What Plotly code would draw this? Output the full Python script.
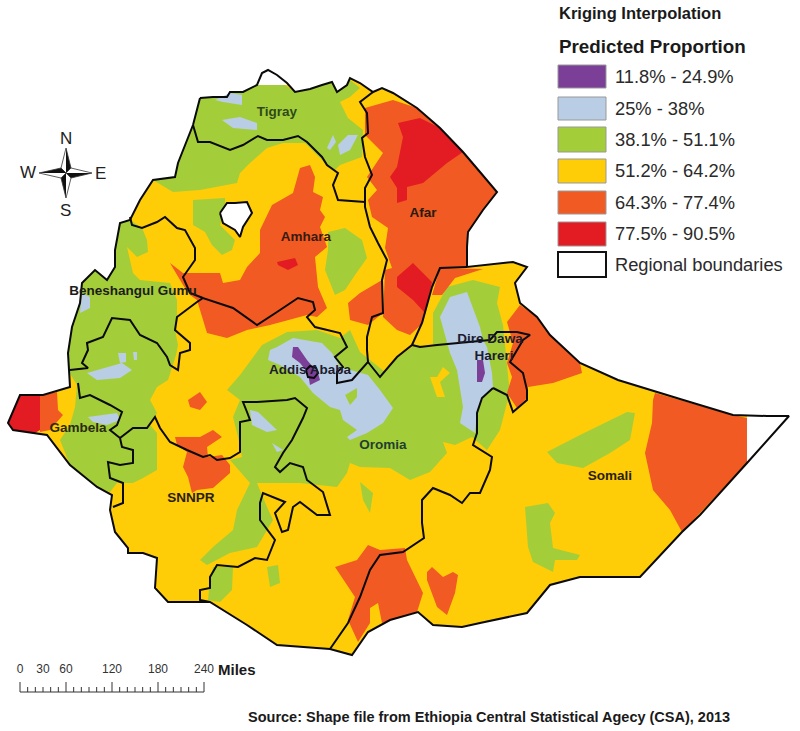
import plotly.graph_objects as go

# ---- Map geometry (map units = image pixels) ----
COUNTRY_OUTLINE = [(200,98),(213,97),(227,97),(230,92),(243,92),(257,85),(262,73),(268,70),(277,75),(287,83),(295,92),(310,89),(322,85),(332,82),(337,92),(347,85),(350,78),(360,83),(373,92),(382,88),(393,93),(417,108),(440,128),(463,152),(480,172),(497,192),(483,210),(468,232),(467,247),(467,267),(513,262),(527,267),(515,283),(520,303),(537,317),(550,335),(580,363),(618,380),(680,399),(733,415),(767,416),(789,416),(747,463),(700,515),(682,532),(640,577),(607,577),(580,577),(550,585),(527,613),(480,623),(462,627),(433,625),(418,612),(390,620),(368,632),(352,655),(330,649),(277,645),(247,625),(210,602),(168,602),(155,588),(157,558),(143,553),(128,553),(128,548),(115,532),(110,510),(112,495),(97,487),(70,465),(47,435),(35,433),(13,430),(8,423),(20,395),(43,395),(70,387),(69,370),(68,353),(72,327),(80,303),(82,283),(95,270),(107,280),(115,267),(115,250),(120,223),(130,220),(140,200),(153,180),(175,177),(178,163),(193,125),(200,98)]
LAKE_HOLE = [(220,213),(227,203),(235,203),(247,202),(252,213),(243,227),(240,237),(235,230),(223,223),(220,213)]
WHITE_TRIANGLE = [(747,412),(795,412),(747,470)]
WHITE_TOP = [(258,66),(300,66),(292,85),(257,85)]

BOUND_TIGRAY = [(193,125),(198,142),(210,142),(230,150),(243,145),(258,136),(267,140),(283,140),(298,136),(307,142),(322,157),(327,165),(338,173),(333,185),(338,200),(365,202)]
BOUND_AFAR_W = [(373,92),(360,102),(367,113),(368,133),(362,138),(365,157),(372,175),(365,188),(365,207),(370,227),(378,243),(387,260),(382,280),(383,313),(372,317),(367,337),(367,350),(368,362),(352,380),(337,383),(337,372),(343,367),(335,357),(347,347),(340,333),(315,327),(307,317),(315,310),(313,302),(298,298),(277,312),(257,325),(233,308),(203,298),(197,302),(177,317),(175,330),(190,343),(190,350),(180,353),(178,370),(170,365),(167,357),(157,343),(140,335),(130,320),(112,318),(103,337),(87,343),(88,350),(82,363),(88,368),(70,370)]
BOUND_BENI = [(130,217),(132,225),(142,228),(157,222),(165,217),(177,228),(185,230),(195,248),(195,260),(183,277),(190,293),(203,298)]
BOUND_GAMBELA = [(78,383),(80,398),(90,395),(110,405),(122,412),(117,425),(110,430),(120,438),(122,447),(133,450),(133,463),(120,465),(108,462),(110,478),(123,483),(123,503),(113,507)]
BOUND_SNNPR = [(120,438),(133,428),(147,428),(155,417),(160,428),(170,442),(187,450),(203,457),(210,455),(217,460),(230,458),(240,452),(240,422),(250,420),(247,412),(243,402),(257,402),(287,400),(295,398),(307,408),(303,418),(292,440),(283,453),(275,467),(280,472),(290,463),(303,467),(307,480),(323,492),(330,515),(317,515),(300,502),(293,507),(288,530),(282,532),(275,513),(285,502),(263,493),(260,503),(260,520),(275,540),(267,560),(255,558),(238,567),(217,565),(210,577),(210,588),(200,590),(200,600),(210,602)]
BOUND_SOMALI = [(493,388),(482,398),(477,413),(477,433),(473,445),(492,457),(490,470),(480,493),(470,493),(462,503),(450,495),(433,488),(422,500),(422,523),(424,538),(403,552),(380,555),(370,570),(360,597),(348,623),(330,649)]
BOUND_HARARI = [(493,388),(507,395),(513,412),(527,400),(527,390),(523,373),(510,362),(523,340),(530,335),(517,332),(497,332),(490,340),(437,345),(420,347),(412,345)]
BOUND_AFAR_S = [(368,362),(380,377),(397,357),(412,345),(422,323),(432,287),(440,268),(467,267)]
BOUND_ADDIS = [(306,370),(310,366),(316,368),(318,373),(314,378),(308,377),(306,370)]

GREEN_NORTH = [(153,180),(175,177),(178,163),(193,125),(200,98),(213,97),(227,97),(230,92),(243,92),(257,85),(285,85),(295,92),(310,89),(322,85),(332,82),(337,92),(347,85),(350,80),(360,88),(350,97),(340,102),(348,118),(363,130),(362,157),(340,165),(335,170),(322,160),(305,143),(283,143),(267,148),(250,163),(240,173),(237,183),(200,190),(173,192)]
GREEN_AMHARA_W = [(193,200),(225,198),(225,210),(220,225),(235,240),(232,250),(222,255),(212,245),(205,232),(193,225)]
GREEN_AMHARA_E = [(328,232),(345,228),(362,240),(367,258),(355,275),(345,290),(335,295),(325,270),(328,250)]
GREEN_WEST = [(120,223),(130,220),(142,228),(147,240),(148,252),(137,257),(127,247),(133,273),(140,280),(170,283),(177,300),(177,317),(175,330),(178,345),(176,355),(172,368),(168,380),(157,387),(150,400),(157,413),(150,425),(157,433),(157,470),(143,478),(133,483),(117,483),(110,492),(97,487),(70,465),(60,440),(70,425),(75,407),(77,385),(69,372),(68,353),(72,327),(80,303),(82,283),(95,270),(107,280),(115,267),(115,250)]
GREEN_CENTRAL = [(287,332),(317,330),(340,338),(350,330),(360,352),(385,372),(397,358),(415,345),(433,347),(433,313),(447,287),(473,280),(500,287),(497,303),(503,325),(505,345),(507,365),(510,395),(507,403),(500,430),(487,450),(472,437),(455,445),(443,442),(447,453),(430,472),(410,480),(390,468),(360,467),(350,463),(347,473),(337,487),(300,483),(257,483),(267,507),(273,520),(257,547),(230,553),(207,565),(200,560),(213,547),(233,530),(237,510),(250,483),(230,460),(242,457),(238,437),(233,417),(240,400),(227,390),(240,375),(262,345)]
GREEN_OROMIA_S = [(360,482),(373,493),(370,513),(363,500)]
GREEN_SOMALI_E = [(547,452),(580,435),(627,412),(635,413),(630,440),(610,453),(583,468),(557,463)]
GREEN_SOMALI_S = [(525,507),(548,503),(555,513),(550,523),(553,548),(580,555),(577,560),(555,560),(553,572),(533,562),(528,547)]
GREEN_SOUTH_A = [(267,567),(278,565),(280,583),(270,587)]
GREEN_SOUTH_B = [(213,567),(233,567),(232,590),(220,602),(208,600),(210,580)]

YELLOW_PATCH_E = [(430,377),(437,397),(445,397),(440,382),(450,373),(443,367),(437,377)]

BLUE_CENTRAL = [(268,360),(270,350),(277,347),(293,338),(322,343),(332,353),(340,367),(368,375),(380,390),(393,408),(383,423),(367,433),(350,440),(347,437),(357,430),(343,420),(340,410),(330,407),(313,393),(300,377),(280,365)]
BLUE_EAST = [(440,317),(450,297),(467,292),(480,327),(483,340),(487,347),(492,373),(493,387),(483,397),(477,413),(475,433),(460,423),(463,407),(457,370),(450,353)]
BLUE_SNNPR_A = [(250,410),(258,412),(277,430),(267,432),(252,425)]
BLUE_SNNPR_B = [(272,443),(283,450),(277,452)]
BLUE_GAMBELA = [(88,417),(117,413),(120,420),(107,425),(93,422)]
BLUE_W1 = [(87,373),(122,363),(132,370),(120,378),(97,380)]
BLUE_W2 = [(118,353),(126,353),(126,362),(120,363)]
BLUE_W3 = [(133,352),(137,352),(137,360),(134,360)]
BLUE_TIGRAY_A = [(215,100),(230,93),(242,95),(242,105),(223,102)]
BLUE_TIGRAY_B = [(222,120),(240,117),(257,123),(257,130),(233,128)]
BLUE_TIGRAY_C = [(338,145),(348,135),(358,135),(350,150),(340,155)]
BLUE_TIGRAY_D = [(327,148),(333,135),(336,142),(330,150)]
BLUE_BENI = [(82,293),(90,297),(90,308),(80,313)]
GREEN_IN_BLUE = [(345,395),(357,388),(357,397),(350,405)]

ORANGE_AMHARA = [(170,263),(183,273),(220,273),(223,283),(240,280),(247,267),(260,253),(260,230),(272,205),(293,193),(300,168),(310,165),(315,177),(313,192),(323,197),(320,210),(325,217),(320,227),(327,247),(315,257),(318,287),(327,308),(317,317),(307,315),(270,325),(247,330),(227,338),(207,333),(200,310),(197,300),(190,295),(183,285)]
ORANGE_AMHARA_E = [(377,283),(382,280),(383,313),(368,325),(350,320),(348,303),(360,293)]
ORANGE_AFAR = [(393,100),(417,108),(440,128),(463,152),(480,172),(497,192),(483,210),(468,232),(467,247),(467,267),(440,268),(432,287),(423,323),(410,335),(397,330),(383,317),(385,270),(392,268),(385,248),(388,228),(372,217),(368,200),(377,190),(367,177),(383,153),(365,135),(365,108)]
ORANGE_NE = [(440,268),(483,269),(455,278),(442,295),(432,295)]
ORANGE_HARARI = [(520,305),(537,317),(550,335),(580,363),(582,373),(553,383),(528,387),(527,398),(517,408),(507,393),(512,377),(507,363),(513,343),(507,322)]
ORANGE_SOMALI_E = [(655,393),(733,415),(747,418),(747,463),(682,532),(670,510),(653,490),(645,453),(652,423),(653,400)]
ORANGE_SNNPR_A = [(188,400),(200,392),(207,402),(200,410),(190,407)]
ORANGE_SNNPR_B = [(175,437),(200,437),(213,430),(222,437),(207,447),(208,457),(222,455),(230,465),(230,473),(213,488),(197,490),(192,493),(188,477),(183,467),(187,452),(177,445)]
ORANGE_SOUTH_A = [(335,567),(357,560),(368,545),(380,550),(405,548),(407,560),(423,593),(417,612),(382,623),(378,603),(370,608),(370,623),(358,642),(348,620),(355,597)]
ORANGE_SOUTH_B = [(427,572),(432,567),(443,577),(453,572),(458,575),(455,593),(447,615),(437,607),(427,580)]
ORANGE_SW = [(40,396),(57,392),(58,410),(63,415),(50,430),(40,432)]

RED_AFAR_N = [(398,123),(420,118),(440,128),(463,152),(447,163),(423,183),(407,187),(407,200),(397,203),(397,188),(390,177),(397,167),(403,137)]
RED_AFAR_S = [(397,277),(413,263),(423,273),(432,282),(425,313),(413,300),(397,287)]
RED_AMHARA = [(277,262),(295,258),(298,265),(288,270),(278,265)]
RED_SW = [(20,395),(40,395),(40,430),(35,433),(13,430),(8,423)]

PURPLE_ADDIS = [(293,347),(298,347),(307,360),(318,373),(320,380),(310,385),(308,373),(300,363),(292,357)]
PURPLE_EAST = [(477,360),(483,360),(485,373),(482,382),(477,382),(477,370)]

COLOR_PURPLE, COLOR_BLUE, COLOR_GREEN = "#7B3F98", "#B9CDE5", "#A4CE39"
COLOR_YELLOW, COLOR_ORANGE, COLOR_RED = "#FFCC08", "#F15A22", "#E31B23"

LEGEND_LABELS = ["11.8% - 24.9%", "25% - 38%", "38.1% - 51.1%", "51.2% - 64.2%", "64.3% - 77.4%", "77.5% - 90.5%", "Regional boundaries"]
LEGEND_COLORS = [COLOR_PURPLE, COLOR_BLUE, COLOR_GREEN, COLOR_YELLOW, COLOR_ORANGE, COLOR_RED, "#FFFFFF"]
LEGEND_TOPS = [65, 97, 127, 159, 191, 222, 252]
LEGEND_BOTTOMS = [88, 120, 152, 183, 214, 246, 277]

REGION_NAMES = ["Tigray", "Afar", "Amhara", "Beneshangul Gumu", "Addis Ababa", "Dire Dawa", "Hareri", "Oromia", "Gambela", "SNNPR", "Somali"]
REGION_X = [277, 423, 306, 133, 310, 490, 494, 383, 78, 191, 610]
REGION_Y = [113, 214, 238, 292, 371, 340, 357, 446, 429, 499, 477]
REGION_COLORS = ["#2e4a1a", "#2a1a10", "#3a1a10", "#1c1c1c", "#1c1c30", "#1c1c30", "#1c1c30", "#1e4030", "#2a2a10", "#2a2010", "#2a2010"]

SCALE_LABELS = ["0", "30", "60", "120", "180", "240"]
SCALE_MILES = [0, 30, 60, 120, 180, 240]
SCALE_MINOR = list(range(0, 241, 10))

fig = go.Figure()

def poly(points, color):
    fig.add_trace(go.Scatter(x=[p[0] for p in points], y=[p[1] for p in points], mode="lines",
                             fill="toself", fillcolor=color, line=dict(width=0, color=color),
                             hoverinfo="skip", showlegend=False))

def line(points, width=2, color="#0a0a0a"):
    fig.add_trace(go.Scatter(x=[p[0] for p in points], y=[p[1] for p in points], mode="lines",
                             line=dict(width=width, color=color), hoverinfo="skip", showlegend=False))

poly(COUNTRY_OUTLINE, COLOR_YELLOW)
for p in [GREEN_NORTH, GREEN_AMHARA_W, GREEN_AMHARA_E, GREEN_WEST, GREEN_CENTRAL, GREEN_OROMIA_S, GREEN_SOMALI_E,
          GREEN_SOMALI_S, GREEN_SOUTH_A, GREEN_SOUTH_B]:
    poly(p, COLOR_GREEN)
poly(YELLOW_PATCH_E, COLOR_YELLOW)
for p in [BLUE_CENTRAL, BLUE_EAST, BLUE_SNNPR_A, BLUE_SNNPR_B, BLUE_GAMBELA, BLUE_W1, BLUE_W2, BLUE_W3,
          BLUE_TIGRAY_A, BLUE_TIGRAY_B, BLUE_TIGRAY_C, BLUE_TIGRAY_D, BLUE_BENI]:
    poly(p, COLOR_BLUE)
poly(GREEN_IN_BLUE, COLOR_GREEN)
for p in [ORANGE_AMHARA, ORANGE_AMHARA_E, ORANGE_AFAR, ORANGE_NE, ORANGE_HARARI, ORANGE_SOMALI_E, ORANGE_SNNPR_A,
          ORANGE_SNNPR_B, ORANGE_SOUTH_A, ORANGE_SOUTH_B, ORANGE_SW]:
    poly(p, COLOR_ORANGE)
for p in [RED_AFAR_N, RED_AFAR_S, RED_AMHARA, RED_SW]:
    poly(p, COLOR_RED)
for p in [PURPLE_ADDIS, PURPLE_EAST]:
    poly(p, COLOR_PURPLE)
for p in [LAKE_HOLE, WHITE_TRIANGLE, WHITE_TOP]:
    poly(p, "#FFFFFF")

for b in [COUNTRY_OUTLINE, LAKE_HOLE, BOUND_TIGRAY, BOUND_AFAR_W, BOUND_BENI, BOUND_GAMBELA, BOUND_SNNPR,
          BOUND_SOMALI, BOUND_HARARI, BOUND_AFAR_S, BOUND_ADDIS]:
    line(b)

fig.add_trace(go.Scatter(x=REGION_X, y=REGION_Y, mode="text", text=REGION_NAMES,
                         textfont=dict(family="Liberation Sans", size=13.5, color=REGION_COLORS, weight="bold"),
                         hoverinfo="skip", showlegend=False))

# Compass
CX, CY = 66, 173
COMPASS_ARMS = [((0,-25),(5,-5),(-5,-5)), ((26,0),(5,5),(5,-5)), ((0,25),(-5,5),(5,5)), ((-27,0),(-5,-5),(-5,5))]
for tip, a, b in COMPASS_ARMS:
    poly([(CX+tip[0],CY+tip[1]),(CX+a[0],CY+a[1]),(CX,CY)], "#111111")
    poly([(CX+tip[0],CY+tip[1]),(CX+b[0],CY+b[1]),(CX,CY)], "#FFFFFF")
    line([(CX+tip[0],CY+tip[1]),(CX+a[0],CY+a[1]),(CX,CY),(CX+b[0],CY+b[1]),(CX+tip[0],CY+tip[1])], 0.8, "#333333")

# Scale bar
PX_PER_MILE = 184 / 240
BAR_X0, BAR_BOTTOM = 20, 692
line([(BAR_X0, BAR_BOTTOM), (BAR_X0 + 240 * PX_PER_MILE, BAR_BOTTOM)], 1, "#333333")
for m in SCALE_MINOR:
    h = 10 if m % 60 == 0 else 5
    line([(BAR_X0 + m * PX_PER_MILE, BAR_BOTTOM), (BAR_X0 + m * PX_PER_MILE, BAR_BOTTOM - h)], 1, "#333333")
fig.add_trace(go.Scatter(x=[BAR_X0 + m * PX_PER_MILE for m in SCALE_MILES], y=[670] * len(SCALE_MILES), mode="text",
                         text=SCALE_LABELS, textfont=dict(family="Liberation Sans", size=12, color="#333333"),
                         hoverinfo="skip", showlegend=False))

annotations = []
def label(x, y, text, size, bold=False, family="Liberation Sans", color="#1a1a1a"):
    annotations.append(dict(x=x, y=y, xref="x", yref="y", text=("<b>%s</b>" % text) if bold else text, showarrow=False,
                            xanchor="left", yanchor="middle", xshift=-1, font=dict(family=family, size=size, color=color)))

label(558, 13, "Kriging Interpolation", 16.5, True)
label(558, 46, "Predicted Proportion", 18.8, True)
for name, top, bottom in zip(LEGEND_LABELS, LEGEND_TOPS, LEGEND_BOTTOMS):
    label(614, (top + bottom) / 2 - 0.5, name, 18.3, False, color="#2a2a2a")
label(217, 669, "Miles", 15, True)
label(247, 717, "Source: Shape file from Ethiopia Central Statistical Agecy (CSA), 2013", 14.5, True)
for letter, x, y in [("N", 66, 138), ("W", 28, 172), ("E", 100, 173), ("S", 65, 210)]:
    annotations.append(dict(x=x, y=y, xref="x", yref="y", text=letter, showarrow=False,
                            font=dict(family="Liberation Sans", size=17, color="#222222")))

shapes = []
for color, top, bottom in zip(LEGEND_COLORS, LEGEND_TOPS, LEGEND_BOTTOMS):
    is_bound = color == "#FFFFFF"
    shapes.append(dict(type="rect", x0=558, x1=606, y0=top, y1=bottom, xref="x", yref="y", fillcolor=color,
                       line=dict(color="#111111" if is_bound else "#999999", width=2 if is_bound else 1)))

fig.update_layout(width=800, height=731, margin=dict(l=0, r=0, t=0, b=0), paper_bgcolor="white", plot_bgcolor="white",
                  xaxis=dict(range=[0, 800], visible=False, fixedrange=True),
                  yaxis=dict(range=[731, 0], visible=False, fixedrange=True),
                  annotations=annotations, shapes=shapes, showlegend=False)
fig.write_html("out.html", config=dict(displayModeBar=False),
               post_script="document.body.style.margin='0';document.body.style.overflow='hidden';")
